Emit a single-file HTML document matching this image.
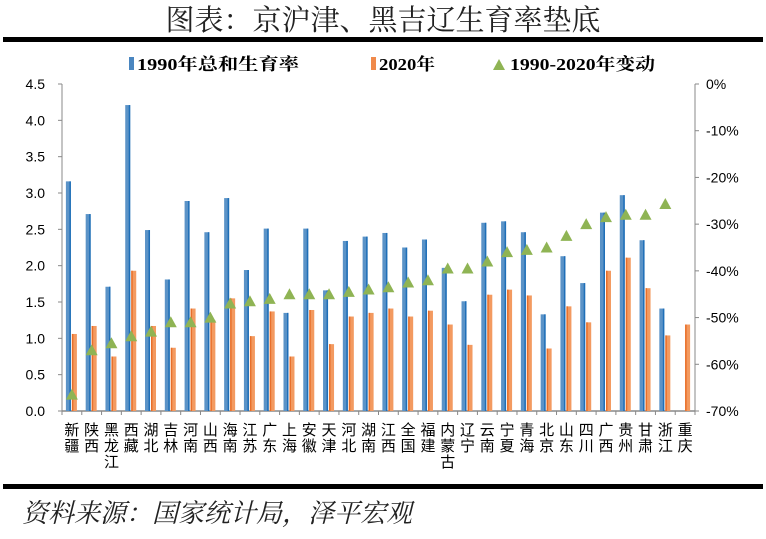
<!DOCTYPE html>
<html><head><meta charset="utf-8"><style>
body{margin:0;background:#fff;}
svg text{font-family:"Liberation Sans","Noto Sans CJK SC",sans-serif;}
</style></head><body>
<svg id="c" width="766" height="534" xmlns="http://www.w3.org/2000/svg">
<text x="383" y="30" text-anchor="middle" font-size="29" fill="#222" style="font-family:'Noto Serif CJK SC','WenQuanYi Zen Hei',serif">图表：京沪津、黑吉辽生育率垫底</text>
<rect x="3" y="37" width="760" height="5" fill="#000"/>
<g>
<rect x="129" y="57" width="5" height="13" fill="#4a86c0"/>
<text x="137" y="70" font-size="17" font-weight="bold" textLength="162" lengthAdjust="spacingAndGlyphs" style="font-family:'Liberation Serif','Noto Serif CJK SC',serif">1990年总和生育率</text>
<rect x="371" y="57" width="5" height="13" fill="#f08a4b"/>
<text x="379" y="70" font-size="17" font-weight="bold" textLength="56" lengthAdjust="spacingAndGlyphs" style="font-family:'Liberation Serif','Noto Serif CJK SC',serif">2020年</text>
<polygon points="493,70 499,59 505,70" fill="#8fb454"/>
<text x="510" y="70" font-size="17" font-weight="bold" textLength="145" lengthAdjust="spacingAndGlyphs" style="font-family:'Liberation Serif','Noto Serif CJK SC',serif">1990-2020年变动</text>
</g>
<g id="plot"></g>
<rect x="3" y="484" width="760" height="5" fill="#000"/>
<text x="22" y="522" font-size="26" font-style="italic" fill="#222" style="font-family:'Noto Serif CJK SC','WenQuanYi Zen Hei',serif">资料来源：国家统计局，泽平宏观</text>
</svg>
<script>
const categories=["新疆","陕西","黑龙江","西藏","湖北","吉林","河南","山西","海南","江苏","广东","上海","安徽","天津","河北","湖南","江西","全国","福建","内蒙古","辽宁","云南","宁夏","青海","北京","山东","四川","广西","贵州","甘肃","浙江","重庆"];
const tfr1990=[3.16,2.71,1.71,4.21,2.49,1.81,2.89,2.46,2.93,1.94,2.51,1.35,2.51,1.66,2.34,2.40,2.45,2.25,2.36,1.97,1.51,2.59,2.61,2.46,1.33,2.13,1.76,2.73,2.97,2.35,1.41,null];
const tfr2020=[1.06,1.17,0.75,1.93,1.17,0.87,1.41,1.25,1.55,1.03,1.37,0.75,1.39,0.92,1.30,1.35,1.41,1.30,1.38,1.19,0.91,1.60,1.67,1.59,0.86,1.44,1.22,1.93,2.11,1.69,1.04,1.19];
const change=[-66.5,-57,-55.5,-54,-53,-51,-51,-50,-47,-46.5,-46,-45,-45,-45,-44.5,-44,-43.5,-42.5,-42,-39.5,-39.5,-38,-36,-35.5,-35,-32.5,-30,-28.5,-28,-28,-25.7,null];
const leftTicks=["0.0","0.5","1.0","1.5","2.0","2.5","3.0","3.5","4.0","4.5"];
const rightTicks=["0%","-10%","-20%","-30%","-40%","-50%","-60%","-70%"];
const NS="http://www.w3.org/2000/svg";
const g=document.getElementById('plot');
const X0=62,X1=695,Y0=411,YT=84;
const n=categories.length,bw=(X1-X0)/n;
const yL=v=>Y0-(v/4.5)*(Y0-YT);
const yR=p=>YT+(-p/70)*(Y0-YT);
const xC=i=>X0+bw*(i+0.5);
function mk(t,a){const e=document.createElementNS(NS,t);for(const k in a)e.setAttribute(k,a[k]);g.appendChild(e);return e;}
let e;
e=mk('line',{x1:X0,y1:YT,x2:X0,y2:Y0,stroke:'#888','stroke-width':1});


e=mk('line',{x1:X1,y1:YT,x2:X1,y2:Y0,stroke:'#888','stroke-width':1});


e=mk('line',{x1:X0,y1:Y0,x2:X1,y2:Y0,stroke:'#888','stroke-width':1.5});


leftTicks.forEach((t,i)=>{const y=yL(parseFloat(t));
 mk('line',{x1:X0-4,y1:y,x2:X0,y2:y,stroke:'#888'});
 e=mk('text',{x:45,y:y+5,'text-anchor':'end','font-size':14,fill:'#000'});e.textContent=t;
 
 });
rightTicks.forEach(t=>{const y=yR(parseFloat(t));
 mk('line',{x1:X1,y1:y,x2:X1+4,y2:y,stroke:'#888'});
 e=mk('text',{x:706,y:y+5,'font-size':14,fill:'#000'});e.textContent=t;
 
 });
for(let i=0;i<=n;i++){const x=X0+bw*i;mk('line',{x1:x,y1:Y0,x2:x,y2:Y0+4,stroke:'#888'});}
categories.forEach((c,i)=>{const cx=xC(i);
 if(tfr1990[i]!=null){const y=yL(tfr1990[i]);
  e=mk('rect',{x:cx-6,y:y,width:5,height:Y0-y,fill:'#5b93c7'});
  
  
  mk('rect',{x:cx-2.5,y:y,width:1.5,height:Y0-y,fill:'#1f6fb8'});}
 if(tfr2020[i]!=null){const y=yL(tfr2020[i]);
  e=mk('rect',{x:cx,y:y,width:5,height:Y0-y,fill:'#f39a60'});
  
  
  mk('rect',{x:cx,y:y,width:1.5,height:Y0-y,fill:'#e86f2a'});}
 if(change[i]!=null){const y=yR(change[i]);
  e=mk('polygon',{points:`${cx-6},${y+5} ${cx},${y-6} ${cx+6},${y+5}`,fill:'#8fb454'});
  
  }
 [...c].forEach((ch,k)=>{e=mk('text',{x:cx,y:435+k*16,'text-anchor':'middle','font-size':15,fill:'#000'});e.textContent=ch;
  
  });
});
</script>
</body></html>
